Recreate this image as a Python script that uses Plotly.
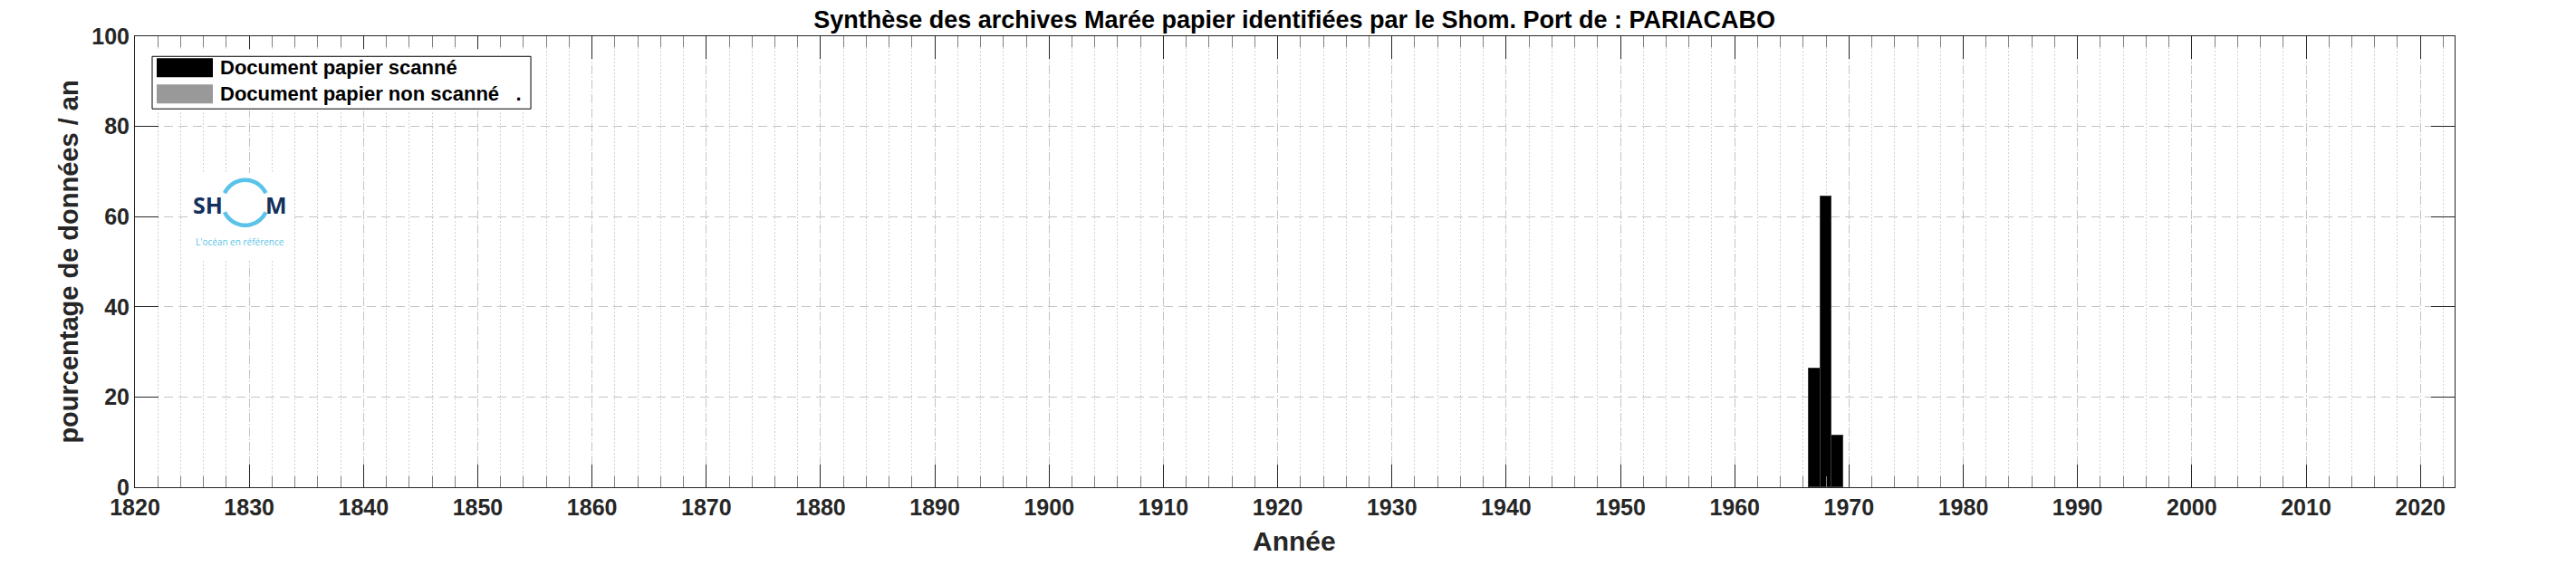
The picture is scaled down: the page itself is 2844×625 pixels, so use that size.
import numpy as np
import plotly.graph_objects as go

# ---------------- data ----------------
years = [1967, 1968, 1969]
scanned = [26.4, 64.4, 11.4]
not_scanned = [0, 0, 0]

x_tick_vals = list(range(1820, 2021, 10))
x_tick_text = [str(v) for v in x_tick_vals]
y_tick_vals = [0, 20, 40, 60, 80, 100]
y_tick_text = [str(v) for v in y_tick_vals]

title_text = "Synthèse des archives Marée papier identifiées par le Shom. Port de : PARIACABO"
x_title = "Année"
y_title = "pourcentage de données / an"
legend_labels = ["Document papier scanné", "Document papier non scanné &nbsp; ."]
logo_texts = ["SH", "M", "L'océan en référence"]

# ---------------- layout geometry (pixels) ----------------
W, H = 2844, 625
L, R, T, B = 141.0, 2701.7, 31.7, 530.3


def px(xp):
    return (xp - L) / (R - L)


def py(yp):
    return (B - yp) / (B - T)


FONT = "Liberation Sans, Arial, sans-serif"
AXC = "#262626"

fig = go.Figure()
fig.add_trace(go.Bar(
    x=years, y=scanned, width=1.0, name=legend_labels[0],
    marker=dict(color="#000000", line=dict(color="#3c3c3c", width=1)),
    showlegend=False,
))
fig.add_trace(go.Bar(
    x=years, y=not_scanned, width=1.0, name=legend_labels[1],
    marker=dict(color="#999999", line=dict(color="#3c3c3c", width=0)),
    showlegend=False,
))

axis_common = dict(
    showline=True, linecolor=AXC, linewidth=1, mirror="allticks",
    ticks="inside", tickcolor=AXC, tickwidth=1,
    showgrid=True, gridcolor="#c4c4c4", gridwidth=1, griddash="10px,6px",
    zeroline=False,
    tickfont=dict(family=FONT, size=25, color=AXC, weight="bold"),
)

fig.update_xaxes(
    range=[1820, 2023], tickmode="array", tickvals=x_tick_vals, ticktext=x_tick_text,
    ticklen=25,
    minor=dict(tick0=1820, dtick=2, ticks="inside", ticklen=12, tickcolor="#808080",
               tickwidth=1, showgrid=True, gridcolor="#d2d2d2", gridwidth=1,
               griddash="2px,2px"),
    **axis_common,
)
fig.update_yaxes(
    range=[0, 100], tickmode="array", tickvals=y_tick_vals, ticktext=y_tick_text,
    ticklen=26,
    title=dict(text=y_title, standoff=6,
               font=dict(family=FONT, size=29, color=AXC, weight="bold")),
    **axis_common,
)

shapes = []
annotations = []

# ---- legend (drawn by hand to match the large swatches) ----
shapes.append(dict(type="rect", xref="paper", yref="paper", layer="above",
                   x0=px(158), x1=px(580), y0=py(46), y1=py(114),
                   fillcolor="white", line=dict(width=0)))
shapes.append(dict(type="rect", xref="paper", yref="paper", layer="above",
                   x0=px(160), x1=px(578), y0=py(54), y1=py(112),
                   fillcolor="white", line=dict(color="#000000", width=1)))
swatch_colors = ["#000000", "#999999"]
row_y = [(56, 77), (85, 106)]
for (ya, yb), c, lab in zip(row_y, swatch_colors, legend_labels):
    shapes.append(dict(type="rect", xref="paper", yref="paper", layer="above",
                       x0=px(165), x1=px(227), y0=py(ya), y1=py(yb),
                       fillcolor=c, line=dict(width=0)))
    annotations.append(dict(xref="paper", yref="paper", x=px(233), y=py((ya + yb) / 2),
                            xanchor="left", yanchor="middle", showarrow=False,
                            text=lab,
                            font=dict(family=FONT, size=22, color="#000000", weight="bold")))

# ---- SHOM logo ----
shapes.append(dict(type="rect", xref="paper", yref="paper", layer="above",
                   x0=px(200), x1=px(312), y0=py(183), y1=py(280),
                   fillcolor="white", line=dict(width=0)))
cx, cy, rr = 262.7, 215.7, 25.0
for a0, a1 in [(25, 155), (205, 335)]:
    th = np.radians(np.linspace(a0, a1, 40))
    pts = [(px(cx + rr * np.cos(t)), py(cy - rr * np.sin(t))) for t in th]
    path = "M" + " L".join(f"{a:.6f},{b:.6f}" for a, b in pts)
    shapes.append(dict(type="path", xref="paper", yref="paper", layer="above",
                       path=path, line=dict(color="#5bc3e8", width=4.5)))
NAVY = "#14305c"
annotations.append(dict(xref="paper", yref="paper", x=px(221.7), y=py(218),
                        xanchor="center", yanchor="middle", showarrow=False,
                        text=logo_texts[0],
                        font=dict(family="Open Sans, sans-serif", size=25, color=NAVY, weight="bold")))
annotations.append(dict(xref="paper", yref="paper", x=px(297), y=py(218),
                        xanchor="center", yanchor="middle", showarrow=False,
                        text=logo_texts[1],
                        font=dict(family="Open Sans, sans-serif", size=25, color=NAVY, weight="bold")))
annotations.append(dict(xref="paper", yref="paper", x=px(257), y=py(259),
                        xanchor="center", yanchor="middle", showarrow=False,
                        text=logo_texts[2],
                        font=dict(family="Open Sans, sans-serif", size=10, color="#5bc3e8")))

# ---- x axis title ----
annotations.append(dict(xref="paper", yref="paper", x=px(1421), y=py(590),
                        xanchor="center", yanchor="middle", showarrow=False,
                        text=x_title,
                        font=dict(family=FONT, size=30, color=AXC, weight="bold")))

fig.update_layout(
    width=W, height=H,
    margin=dict(l=L, r=W - R, t=T, b=H - B, pad=0),
    paper_bgcolor="white", plot_bgcolor="white",
    barmode="stack", bargap=0,
    showlegend=False,
    title=dict(text=title_text, x=px(1421), xref="paper", xanchor="center",
               y=1 - 14 / H, yref="container", yanchor="middle",
               font=dict(family=FONT, size=27, color="#000000", weight="bold")),
    shapes=shapes, annotations=annotations,
)

fig.write_html("out.html")
